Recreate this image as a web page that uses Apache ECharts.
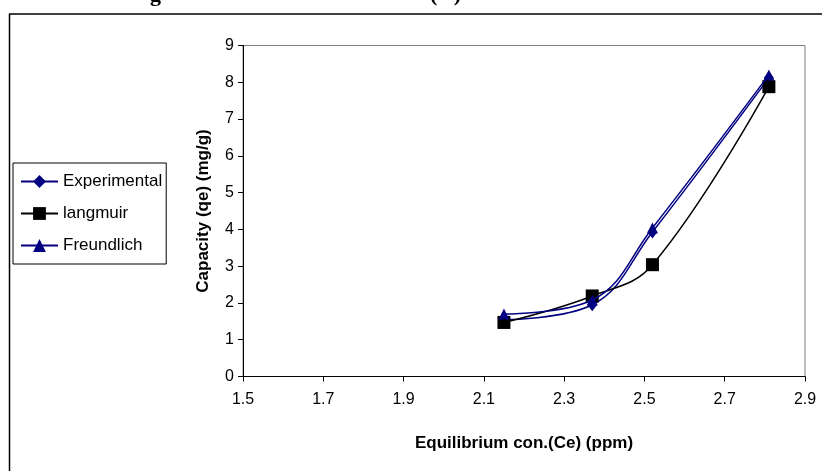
<!DOCTYPE html>
<html>
<head>
<meta charset="utf-8">
<script src="https://cdn.jsdelivr.net/npm/echarts@6/dist/echarts.min.js"></script>
<style>
html,body{margin:0;padding:0;background:#fff;}
#chart{width:822px;height:471px;}
</style>
</head>
<body>
<div id="chart"></div>
<script>
var ceValues = [2.15, 2.37, 2.52, 2.81];
var experimental = [1.55, 1.95, 3.93, 8.12];
var langmuir = [1.47, 2.19, 3.04, 7.88];
var freundlich = [1.7, 2.08, 4.04, 8.2];
var xTicks = [1.5, 1.7, 1.9, 2.1, 2.3, 2.5, 2.7, 2.9];
var yTicks = [0, 1, 2, 3, 4, 5, 6, 7, 8, 9];

function pairs(ys){ return ceValues.map(function(x,i){ return [x, ys[i]]; }); }

var chart = echarts.init(document.getElementById('chart'));
var font = 'Liberation Sans, Arial, sans-serif';
var option = {
  animation: false,
  backgroundColor: '#fff',
  textStyle: {fontFamily: font},
  graphic: [
    {type:'line', shape:{x1:9,y1:14,x2:822,y2:14}, style:{stroke:'#404040', lineWidth:2}},
    {type:'line', shape:{x1:9.5,y1:14,x2:9.5,y2:471}, style:{stroke:'#000', lineWidth:1.5}},
    {type:'text', left:150, top:-16, style:{text:'g', font:'bold 22px Liberation Serif', fill:'#000'}},
    {type:'text', left:430, top:-16, style:{text:'(   )', font:'bold 22px Liberation Serif', fill:'#000'}},
    {type:'rect', shape:{x:243, y:45.5, width:562, height:331}, style:{fill:'none', stroke:'#808080', lineWidth:1}, z:0}
  ],
  grid: {left:243, right:17, top:45.5, bottom:94.5, containLabel:false},
  legend: {
    orient:'vertical', left:13, top:163, width:150,
    padding:[10,4,10,7],
    itemGap:15, itemWidth:37, itemHeight:16,
    borderColor:'#000', borderWidth:1,
    textStyle:{fontSize:17, color:'#000', fontFamily:font},
    data:['Experimental','langmuir','Freundlich']
  },
  xAxis: {
    type:'value', min:1.5, max:2.9, interval:0.2,
    name:'Equilibrium con.(Ce) (ppm)', nameLocation:'middle', nameGap:58,
    nameTextStyle:{fontSize:17, fontWeight:'bold', color:'#000'},
    axisLine:{show:true, onZero:false, lineStyle:{color:'#000', width:1}},
    axisTick:{show:true, length:5, inside:false, lineStyle:{color:'#000'}},
    axisLabel:{fontSize:16, color:'#000', margin:15, formatter:function(v){return v.toFixed(1);}},
    splitLine:{show:false}
  },
  yAxis: {
    type:'value', min:0, max:9, interval:1,
    name:'Capacity (qe) (mg/g)', nameLocation:'middle', nameGap:31,
    nameTextStyle:{fontSize:17, fontWeight:'bold', color:'#000'},
    axisLine:{show:true, lineStyle:{color:'#000', width:1}},
    axisTick:{show:true, length:5, lineStyle:{color:'#000'}},
    axisLabel:{fontSize:16, color:'#000', margin:9},
    splitLine:{show:false}
  },
  series: [
    {name:'Experimental', type:'line', data:pairs(experimental), smooth:0.4,
     symbol:'diamond', symbolSize:[10,13], itemStyle:{color:'#000080'},
     lineStyle:{color:'#000080', width:1.5}, z:2},
    {name:'langmuir', type:'line', data:pairs(langmuir), smooth:0.4,
     symbol:'rect', symbolSize:13, itemStyle:{color:'#000'},
     lineStyle:{color:'#000', width:1.5}, z:3},
    {name:'Freundlich', type:'line', data:pairs(freundlich), smooth:0.4,
     symbol:'triangle', symbolSize:[11,11], itemStyle:{color:'#000080'},
     lineStyle:{color:'#000080', width:1.5}, z:4}
  ]
};
chart.setOption(option);
</script>
</body>
</html>
